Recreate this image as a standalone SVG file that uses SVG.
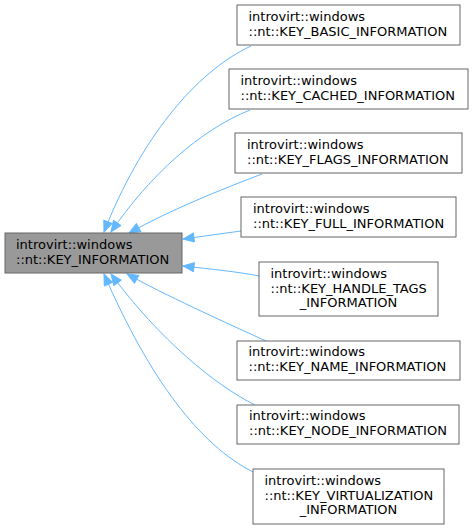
<svg xmlns="http://www.w3.org/2000/svg" width="473" height="530" viewBox="0 0 473 530">
<style>
.box{fill:#ffffff;stroke:#666666;stroke-width:1}
.main{fill:#999999;stroke:#666666;stroke-width:1}
text{font-family:"DejaVu Sans","Liberation Sans",sans-serif;font-size:13px;fill:#000000}
.e{fill:none;stroke:#63b8ff;stroke-width:1}
</style>
<defs>
<marker id="ah" markerUnits="userSpaceOnUse" markerWidth="14" markerHeight="12" refX="12" refY="5" orient="auto">
<path d="M1,0.5 L12,5 L1,9.5 Z" fill="#63b8ff" stroke="#63b8ff" stroke-width="1"/>
</marker>
</defs>
<g id="edges">
<path class="e" marker-end="url(#ah)" d="M251,46 C195,72 140,140 104,232"/>
<path class="e" marker-end="url(#ah)" d="M250,110 C200,130 150,175 111,232"/>
<path class="e" marker-end="url(#ah)" d="M262,174 C220,190 170,210 129,233"/>
<path class="e" marker-end="url(#ah)" d="M241,231 L183,239"/>
<path class="e" marker-end="url(#ah)" d="M259,276 C240,272 210,269 183,266"/>
<path class="e" marker-end="url(#ah)" d="M266,341 C220,320 165,295 127,274"/>
<path class="e" marker-end="url(#ah)" d="M255,405 C215,385 160,340 111,274"/>
<path class="e" marker-end="url(#ah)" d="M253,472 C200,445 150,380 104,274"/>
</g>
<g id="KEY_INFORMATION">
<rect class="main" x="5" y="233" width="177" height="40"/>
<text x="16" y="248.5">introvirt::windows</text>
<text x="16" y="263.5">::nt::KEY_INFORMATION</text>
</g>
<g id="KEY_BASIC_INFORMATION">
<rect class="box" x="237" y="5" width="223" height="40"/>
<text x="248.5" y="20.5">introvirt::windows</text>
<text x="248.5" y="35.5">::nt::KEY_BASIC_INFORMATION</text>
</g>
<g id="KEY_CACHED_INFORMATION">
<rect class="box" x="229" y="69" width="239" height="40"/>
<text x="240.5" y="84.5">introvirt::windows</text>
<text x="240.5" y="99.5">::nt::KEY_CACHED_INFORMATION</text>
</g>
<g id="KEY_FLAGS_INFORMATION">
<rect class="box" x="235" y="133" width="227" height="40"/>
<text x="247" y="148.5">introvirt::windows</text>
<text x="247" y="163.5">::nt::KEY_FLAGS_INFORMATION</text>
</g>
<g id="KEY_FULL_INFORMATION">
<rect class="box" x="241" y="197" width="215" height="40"/>
<text x="253" y="212.5">introvirt::windows</text>
<text x="253" y="227.5">::nt::KEY_FULL_INFORMATION</text>
</g>
<g id="KEY_HANDLE_TAGS_INFORMATION">
<rect class="box" x="259" y="262" width="179" height="54"/>
<text x="270.5" y="278">introvirt::windows</text>
<text x="270.5" y="293">::nt::KEY_HANDLE_TAGS</text>
<text x="348.5" y="307" text-anchor="middle">_INFORMATION</text>
</g>
<g id="KEY_NAME_INFORMATION">
<rect class="box" x="237" y="341" width="223" height="39"/>
<text x="248.5" y="356">introvirt::windows</text>
<text x="248.5" y="371">::nt::KEY_NAME_INFORMATION</text>
</g>
<g id="KEY_NODE_INFORMATION">
<rect class="box" x="237" y="405" width="222" height="39"/>
<text x="249" y="420">introvirt::windows</text>
<text x="249" y="435">::nt::KEY_NODE_INFORMATION</text>
</g>
<g id="KEY_VIRTUALIZATION_INFORMATION">
<rect class="box" x="253" y="469" width="191" height="55"/>
<text x="264.5" y="485">introvirt::windows</text>
<text x="264.5" y="500">::nt::KEY_VIRTUALIZATION</text>
<text x="348.5" y="514" text-anchor="middle">_INFORMATION</text>
</g>
</svg>
